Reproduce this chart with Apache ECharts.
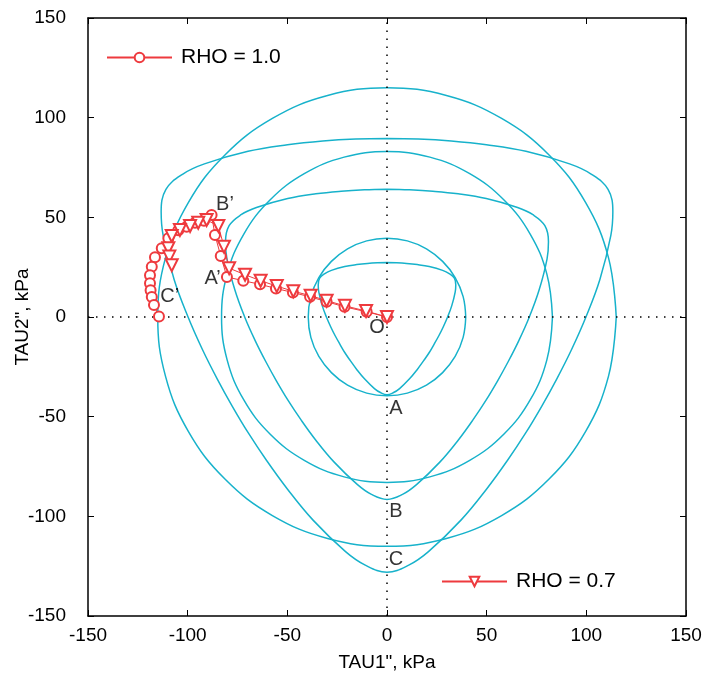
<!DOCTYPE html>
<html>
<head>
<meta charset="utf-8">
<script src="https://cdn.jsdelivr.net/npm/echarts@6/dist/echarts.min.js"></script>
<style>html,body{margin:0;padding:0;background:#fff}#c{width:705px;height:681px}</style>
</head>
<body>
<div id="c"></div>
<script>
// ---- data (kPa) ----
var axisTicks = [-150, -100, -50, 0, 50, 100, 150];

var circleSmall = [[39.5,0],[38.2,10.2],[34.2,19.8],[27.9,27.9],[19.8,34.2],[10.2,38.2],[0,39.5],[-10.2,38.2],[-19.8,34.2],[-27.9,27.9],[-34.2,19.8],[-38.2,10.2],[-39.5,0],[-38.2,-10.2],[-34.2,-19.8],[-27.9,-27.9],[-19.8,-34.2],[-10.2,-38.2],[0,-39.5],[10.2,-38.2],[19.8,-34.2],[27.9,-27.9],[34.2,-19.8],[38.2,-10.2],[39.5,0]];
var circleMid = [[83,0],[80.2,21.5],[71.9,41.5],[58.7,58.7],[41.5,71.9],[21.5,80.2],[0,83],[-21.5,80.2],[-41.5,71.9],[-58.7,58.7],[-71.9,41.5],[-80.2,21.5],[-83,0],[-80.2,-21.5],[-71.9,-41.5],[-58.7,-58.7],[-41.5,-71.9],[-21.5,-80.2],[0,-83],[21.5,-80.2],[41.5,-71.9],[58.7,-58.7],[71.9,-41.5],[80.2,-21.5],[83,0]];
var circleBig = [[115,0],[111.1,29.8],[99.6,57.5],[81.3,81.3],[57.5,99.6],[29.8,111.1],[0,115],[-29.8,111.1],[-57.5,99.6],[-81.3,81.3],[-99.6,57.5],[-111.1,29.8],[-115,0],[-111.1,-29.8],[-99.6,-57.5],[-81.3,-81.3],[-57.5,-99.6],[-29.8,-111.1],[0,-115],[29.8,-111.1],[57.5,-99.6],[81.3,-81.3],[99.6,-57.5],[111.1,-29.8],[115,0]];

var triSmall = [[0,27.3],[4.8,27.2],[9.8,26.9],[15.2,26.3],[21.2,25.3],[27.9,23.4],[31.2,21.8],[33.8,19.5],[34.5,16.1],[34.2,12.5],[32.5,5.7],[30.4,0],[28.2,-5.0],[26.0,-9.4],[23.6,-13.7],[21.2,-17.8],[18.4,-21.9],[15.2,-26.3],[11.3,-31.0],[6.3,-35.9],[3.3,-37.9],[0,-39],[-3.3,-37.9],[-6.3,-35.9],[-11.3,-31.0],[-15.2,-26.3],[-18.4,-21.9],[-21.2,-17.8],[-23.6,-13.7],[-26.0,-9.4],[-28.2,-5.0],[-30.4,0],[-32.5,5.7],[-34.2,12.5],[-34.5,16.1],[-33.8,19.5],[-31.2,21.8],[-27.9,23.4],[-21.2,25.3],[-15.2,26.3],[-9.8,26.9],[-4.8,27.2],[0,27.3]];
var triMid = [[0,64.1],[11.3,63.8],[23.0,63.1],[35.7,61.8],[49.8,59.4],[65.5,54.9],[73.2,51.3],[79.2,45.8],[81.0,37.8],[80.3,29.2],[76.3,13.5],[71.4,0],[66.2,-11.7],[60.9,-22.2],[55.5,-32.0],[49.7,-41.7],[43.2,-51.5],[35.7,-61.8],[26.5,-72.8],[14.8,-84.1],[7.8,-89.0],[0,-91.5],[-7.8,-89.0],[-14.8,-84.1],[-26.5,-72.8],[-35.7,-61.8],[-43.2,-51.5],[-49.7,-41.7],[-55.5,-32.0],[-60.9,-22.2],[-66.2,-11.7],[-71.4,0],[-76.3,13.5],[-80.3,29.2],[-81.0,37.8],[-79.2,45.8],[-73.2,51.3],[-65.5,54.9],[-49.8,59.4],[-35.7,61.8],[-23.0,63.1],[-11.3,63.8],[0,64.1]];
var triBig = [[0,89.6],[15.7,89.3],[32.2,88.3],[49.9,86.4],[69.7,83.1],[91.6,76.8],[102.4,71.7],[110.9,64.0],[113.3,52.8],[112.3,40.9],[106.8,18.8],[99.8,0],[92.6,-16.3],[85.2,-31.0],[77.6,-44.8],[69.5,-58.3],[60.4,-72.0],[49.9,-86.4],[37.1,-101.9],[20.8,-117.7],[10.9,-124.5],[0,-128],[-10.9,-124.5],[-20.8,-117.7],[-37.1,-101.9],[-49.9,-86.4],[-60.4,-72.0],[-69.5,-58.3],[-77.6,-44.8],[-85.2,-31.0],[-92.6,-16.3],[-99.8,0],[-106.8,18.8],[-112.3,40.9],[-113.3,52.8],[-110.9,64.0],[-102.4,71.7],[-91.6,76.8],[-69.7,83.1],[-49.9,86.4],[-32.2,88.3],[-15.7,89.3],[0,89.6]];

var rho10 = [[0,0],[-10.2,2.6],[-21.3,5.1],[-30.3,7.7],[-38.6,10.1],[-47.2,12.3],[-55.7,14.3],[-63.7,16.4],[-72.1,18.2],[-80.3,20.1],[-83.4,30.6],[-86.3,41.1],[-88,51.2],[-91.8,48.3],[-96.3,47.3],[-100.5,45.3],[-104.7,43.5],[-109.7,39.5],[-113,34.5],[-116.4,30],[-118,25.2],[-118.9,21],[-118.9,16.9],[-118.6,13.4],[-118,10],[-116.9,6],[-114.4,0.2]];
var rho07 = [[0,0],[-10.5,3],[-21.1,5.6],[-30.3,8.2],[-38.3,10.7],[-47,12.9],[-55.3,15.5],[-63.4,18.2],[-71.2,21.2],[-79.2,24.5],[-81.8,35.3],[-84.6,45.7],[-90.5,48.7],[-94.7,47.3],[-98.8,45.7],[-103.9,43.7],[-108,40.6],[-109.7,34.5],[-109.2,30.3],[-108,26]];

var pointLabels = [[-5,-5.5,'O'],[4.5,-46,'A'],[4.5,-97.5,'B'],[4.5,-121.5,'C'],[-87.5,19.5,'A\u2019'],[-81.3,56.5,'B\u2019'],[-109,10.5,'C\u2019']];

// ---- chart ----
var FONT = 'Liberation Sans, Arial, Helvetica, sans-serif';
var CYAN = '#17b2cb';
var RED = '#ee3a3e';
var chart = echarts.init(document.getElementById('c'), null, {renderer: 'canvas'});

function cyanSeries(name, data) {
  return {name: name, type: 'line', data: data, smooth: 0.4, showSymbol: false, symbol: 'none',
    lineStyle: {color: CYAN, width: 1.5}, z: 2, silent: true};
}
function axisCommon(pos, showLabel) {
  return {
    type: 'value', min: -150, max: 150, interval: 50, position: pos,
    axisLine: {show: true, onZero: false, lineStyle: {color: '#000', width: 1.5}},
    axisTick: {show: true, inside: true, length: 6, lineStyle: {color: '#000', width: 1}},
    axisLabel: {show: showLabel, color: '#000', fontSize: 19, fontFamily: FONT,
      formatter: function (v) { return axisTicks.indexOf(v) >= 0 ? String(v) : ''; }},
    splitLine: {show: false}
  };
}

var xBottom = axisCommon('bottom', true);
xBottom.name = 'TAU1", kPa'; xBottom.nameLocation = 'middle'; xBottom.nameGap = 37;
xBottom.nameMoveOverlap = false;
xBottom.nameTextStyle = {color: '#000', fontSize: 19, fontFamily: FONT};
xBottom.axisLabel.margin = 10;
var yLeft = axisCommon('left', true);
yLeft.name = 'TAU2", kPa'; yLeft.nameLocation = 'middle'; yLeft.nameGap = 56;
yLeft.nameMoveOverlap = false;
yLeft.nameTextStyle = {color: '#000', fontSize: 19, fontFamily: FONT};
yLeft.axisLabel.margin = 22;

var option = {
  animation: false,
  backgroundColor: '#fff',
  grid: {left: 88, right: 19, top: 18, bottom: 65, containLabel: false, outerBoundsMode: 'none'},
  xAxis: [xBottom, axisCommon('top', false)],
  yAxis: [yLeft, axisCommon('right', false)],
  legend: [
    {data: ['RHO = 1.0'], left: 101, top: 42, itemWidth: 65, itemHeight: 12, itemGap: 10,
      textStyle: {color: '#000', fontSize: 21, fontFamily: FONT, padding: [0, 0, 0, 4]}},
    {data: ['RHO = 0.7'], left: 436, top: 566, itemWidth: 65, itemHeight: 12, itemGap: 10,
      textStyle: {color: '#000', fontSize: 21, fontFamily: FONT, padding: [0, 0, 0, 4]}}
  ],
  series: [
    cyanSeries('c1', circleSmall),
    cyanSeries('c2', circleMid),
    cyanSeries('c3', circleBig),
    cyanSeries('t1', triSmall),
    cyanSeries('t2', triMid),
    cyanSeries('t3', triBig),
    {
      name: 'RHO = 1.0', type: 'line', data: rho10, symbol: 'emptyCircle', symbolSize: 10,
      lineStyle: {color: RED, width: 1}, itemStyle: {color: RED, borderColor: RED, borderWidth: 1},
      z: 5
    },
    {
      name: 'RHO = 0.7', type: 'line', data: rho07, symbol: 'emptyTriangle', symbolSize: 12, symbolRotate: 180,
      lineStyle: {color: RED, width: 1}, itemStyle: {color: RED, borderColor: RED, borderWidth: 1},
      z: 5
    },
    {
      name: 'labels', type: 'scatter', data: pointLabels, symbolSize: 0, z: 6, silent: true,
      label: {show: true, position: 'inside', color: '#000', fontSize: 20, fontFamily: FONT,
        formatter: function (p) { return p.value[2]; }},
      markLine: {
        silent: true, symbol: ['none', 'none'], label: {show: false},
        lineStyle: {color: '#000', width: 1.5, type: [1.5, 6.5]},
        data: [{xAxis: 0}, {yAxis: 0}]
      }
    }
  ]
};
chart.setOption(option);
</script>
</body>
</html>
